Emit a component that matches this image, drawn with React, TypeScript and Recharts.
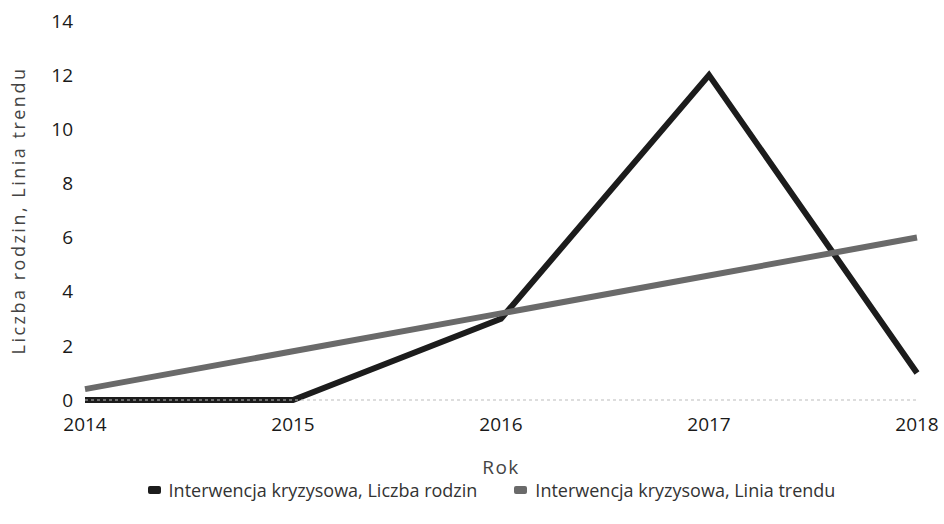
import React from 'react';
import { LineChart, Line, XAxis, YAxis, Legend, Label } from 'recharts';

const years = ['2014', '2015', '2016', '2017', '2018'];
const liczbaRodzin = [0, 0, 3, 12, 1];
const liniaTrendu = [0.4, 1.8, 3.2, 4.6, 6.0];
const yTicks = [0, 2, 4, 6, 8, 10, 12, 14];
const seriesNames = ['Interwencja kryzysowa, Liczba rodzin', 'Interwencja kryzysowa, Linia trendu'];
const seriesColors = ['#1c1c1c', '#6a6a6a'];

const data = years.map((y, i) => ({ year: y, rodziny: liczbaRodzin[i], trend: liniaTrendu[i] }));

const FONT = '"Open Sans", sans-serif';

const YLabel = (props: any) => {
  const vb = props.viewBox || {};
  const cx = 18;
  const cy = vb.y + vb.height / 2;
  return (
    <text x={cx} y={cy} transform={`rotate(-90 ${cx} ${cy})`} textAnchor="middle" dominantBaseline="central"
      fontFamily={FONT} fontSize={18} fill="#444" letterSpacing={2.5}>
      Liczba rodzin, Linia trendu
    </text>
  );
};

const LegendContent = () => (
  <div style={{ display: 'flex', justifyContent: 'center', gap: 37, fontFamily: FONT, fontSize: 18, color: '#333', height: 46, alignItems: 'flex-start', paddingTop: 0, paddingLeft: 66, boxSizing: 'border-box' }}>
    {seriesNames.map((n, i) => (
      <div key={n} style={{ display: 'flex', alignItems: 'center' }}>
        <span style={{ display: 'inline-block', width: 13, height: 8, borderRadius: 2, background: seriesColors[i], marginRight: 8 }} />
        <span>{n}</span>
      </div>
    ))}
  </div>
);

export default function App() {
  return (
    <div style={{ position: 'absolute', left: 0, top: 0, background: '#fff' }}>
      <LineChart width={944} height={524} data={data} margin={{ top: 21, right: 27, left: 0, bottom: 0 }}>
        <XAxis dataKey="year" height={78} tickLine={false} tickSize={0} tickMargin={18}
          axisLine={{ stroke: '#bbb', strokeDasharray: '3 3' }}
          tick={{ fontFamily: FONT, fontSize: 19, fill: '#1a1a1a' }} interval={0}>
          <Label value="Rok" position="insideBottom" offset={4} style={{ fontFamily: FONT, fontSize: 19, fill: '#444', letterSpacing: 1.5 }} />
        </XAxis>
        <YAxis width={85} domain={[0, 14]} ticks={yTicks} tickLine={false} axisLine={false} tickSize={0} tickMargin={12}
          tick={{ fontFamily: FONT, fontSize: 19, fill: '#1a1a1a' }} label={<YLabel />} />
        <Legend verticalAlign="bottom" content={<LegendContent />} />
        <Line dataKey="rodziny" name={seriesNames[0]} stroke={seriesColors[0]} strokeWidth={6} dot={false} isAnimationActive={false} />
        <Line dataKey="trend" name={seriesNames[1]} stroke={seriesColors[1]} strokeWidth={6} dot={false} isAnimationActive={false} />
      </LineChart>
    </div>
  );
}
